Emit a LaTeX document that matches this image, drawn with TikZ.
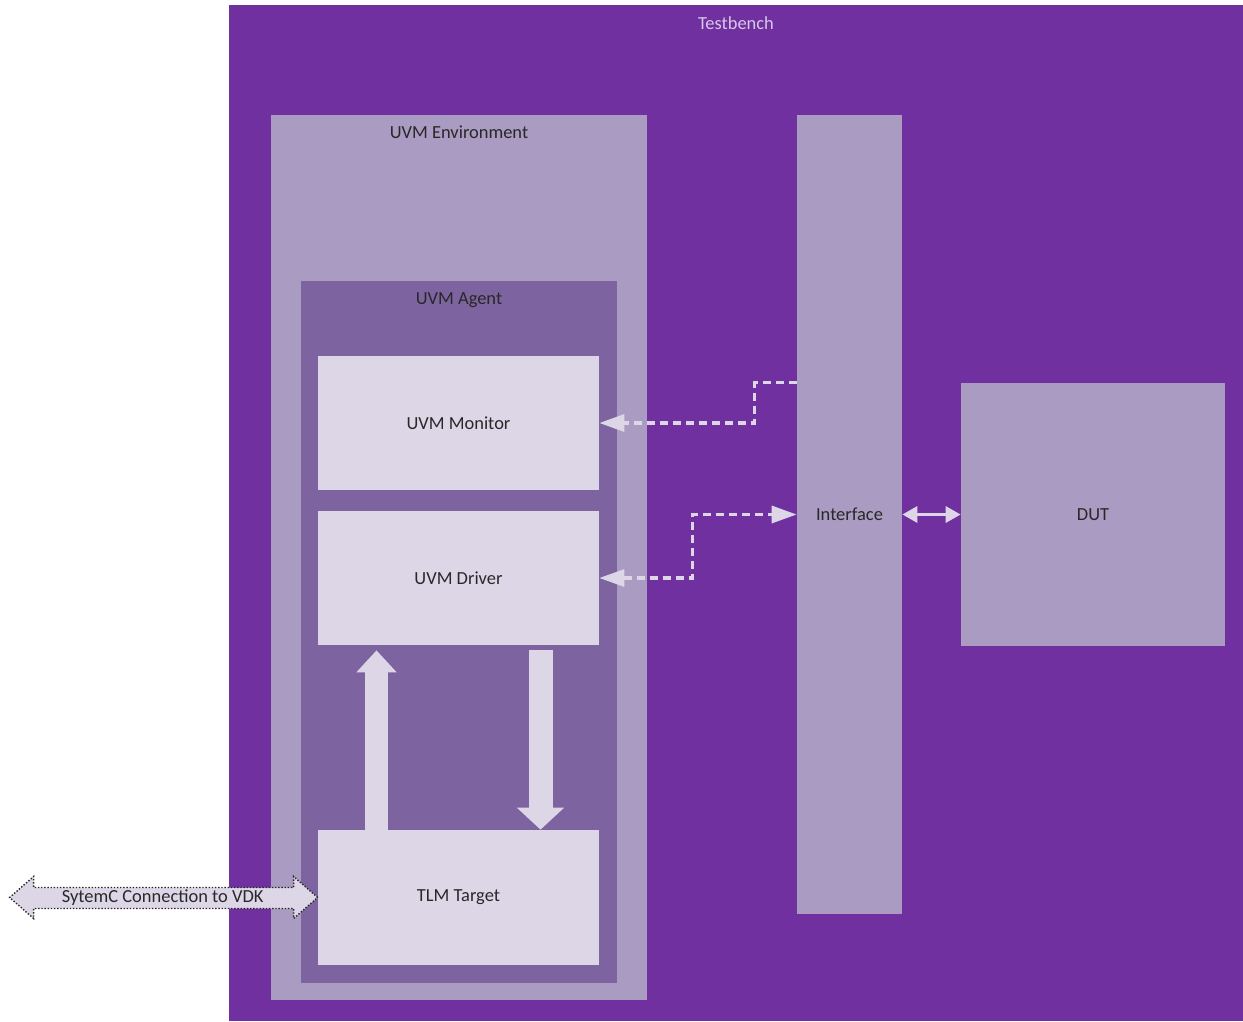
\documentclass[tikz,border=0pt]{standalone}
\usepackage{fontspec}
\setmainfont{Carlito}
\usetikzlibrary{arrows.meta,positioning,calc,fit}
\definecolor{BenchPurple}{RGB}{112,48,160}
\definecolor{EnvLilac}{RGB}{169,155,193}
\definecolor{AgentPurple}{RGB}{125,100,160}
\definecolor{BlockLight}{RGB}{221,214,231}
\definecolor{BenchText}{RGB}{214,200,234}
\definecolor{LabelGray}{RGB}{40,40,40}
\tikzset{
  benchbox/.style={fill=BenchPurple,inner sep=0pt},
  envbox/.style={fill=EnvLilac,inner sep=0pt},
  agentbox/.style={fill=AgentPurple,inner sep=0pt},
  blockbox/.style={fill=BlockLight,inner sep=0pt},
  caption/.style={label={[text=LabelGray]center:#1}},
  dashlink/.style={draw=BlockLight,line width=0.65mm,
    dash pattern=on 1.6mm off 1mm,
    -{Triangle[length=5mm,width=3.4mm]}},
  pinlink/.style={draw=BlockLight,line width=0.65mm,
    {Triangle[length=3mm,width=3.2mm]}-{Triangle[length=3mm,width=3.2mm]}},
  upflow/.style={draw=BlockLight,line width=4.6mm,
    -{Triangle[length=4.4mm,width=7.8mm]}},
  downflow/.style={draw=BlockLight,line width=4.8mm,
    -{Triangle[length=4.4mm,width=9.2mm]}},
  vdkarrow/.style={draw=black!85,densely dotted,line width=0.8pt,fill=BlockLight},
}
\begin{document}
\begin{tikzpicture}[x=0.02cm,y=-0.02cm,font=\fontsize{10.5}{12.6}\selectfont]
  \useasboundingbox (0,0) rectangle (1243,1021);
  % frames
  \node[benchbox,fit={(229,5) (1243,1021)},
        label={[anchor=center,yshift=-3.8mm,text=BenchText]north:Testbench}] (bench) {};
  \node[envbox,fit={(271,115) (647,1000)},
        label={[anchor=center,yshift=-3.6mm,text=LabelGray]north:UVM Environment}] (env) {};
  \node[agentbox,fit={(301,281) (617,983)},
        label={[anchor=center,yshift=-3.9mm,text=LabelGray]north:UVM Agent}] (agent) {};
  % agent blocks
  \node[blockbox,fit={(318,356) (599,490)},caption={UVM Monitor}] (monitor) {};
  \node[blockbox,fit={(318,511) (599,645)},caption={UVM Driver}] (driver) {};
  \node[blockbox,fit={(318,830) (599,965)},caption={TLM Target}] (tlm) {};
  % interface and dut
  \node[envbox,fit={(797,115) (902,914)},caption={Interface}] (interface) {};
  \node[envbox,fit={(961,383) (1225,646)},caption={DUT}] (dut) {};
  % connections
  \draw[dashlink] (interface.west |- dut.north) -- ++(-42,0) |- (monitor.east);
  \draw[dashlink,{Triangle[length=5mm,width=3.4mm]}-{Triangle[length=5mm,width=3.4mm]}]
    (driver.east) -- ++(93,0) |- (interface.west);
  \draw[pinlink] (interface.east) -- (dut.west);
  \draw[upflow] ($(tlm.north)+(-82,0)$) -- ($(driver.south)+(-82,5)$);
  \draw[downflow] ($(driver.south)+(82,5)$) -- ($(tlm.north)+(82,0)$);
  % systemc link
  \draw[vdkarrow] (tlm.west) -- ++(-24,-21) -- ++(0,11) -- ++(-260,0) -- ++(0,-11)
    -- ++(-24,21) -- ++(24,21) -- ++(0,-10) -- ++(260,0) -- ++(0,10) -- cycle;
  \node[text=LabelGray] (vdk) at ($(tlm.west)+(-155,0)$) {SytemC Connection to VDK};
\end{tikzpicture}
\end{document}
